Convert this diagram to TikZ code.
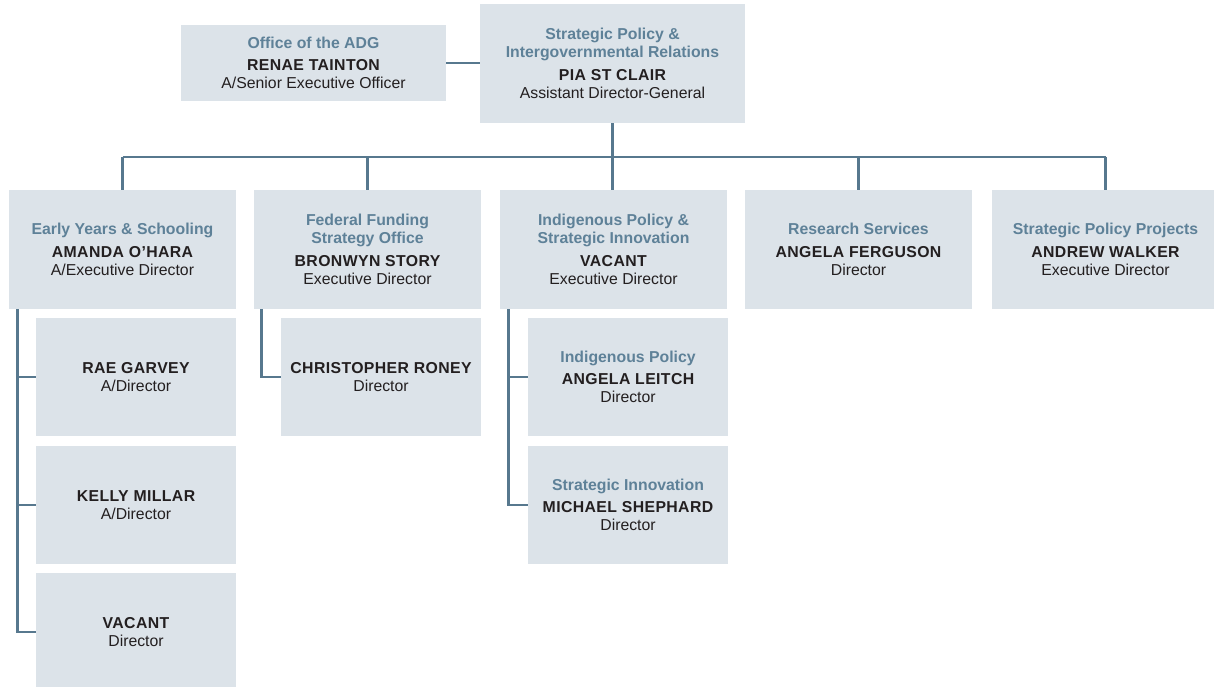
\documentclass[tikz,border=0pt]{standalone}
\usepackage{fontspec}
\setmainfont{Liberation Sans}
\definecolor{boxfill}{HTML}{DCE3E9}
\definecolor{linec}{HTML}{57788E}
\definecolor{ttlc}{HTML}{5E8198}
\definecolor{namec}{HTML}{231F20}
\newcommand{\ttl}[1]{{\color{ttlc}\bfseries #1}}
\newcommand{\nm}[1]{{\color{namec}\bfseries\addfontfeatures{LetterSpace=2.5}#1}}
\begin{document}
\begin{tikzpicture}[x=1pt,y=-1pt,
  unit/.style={fill=boxfill, draw=none, inner sep=0pt, align=center,
    text=namec, font=\fontsize{15.8}{18}\selectfont},
  topbox/.style={unit, minimum width=265pt},
  lvtwo/.style={unit, minimum width=227pt, minimum height=119pt},
  subbox/.style={unit, minimum width=200pt, minimum height=118pt},
  conn/.style={draw=linec, line width=2.9pt}]
\useasboundingbox (0,0) rectangle (1214,687);
% top level
\node[topbox, minimum height=76pt] (adg) at (313.5,63)
  {\ttl{Office of the ADG}\\[4.5pt]\nm{RENAE TAINTON}\\A/Senior Executive Officer};
\node[topbox, minimum height=119pt] (sp) at (612.5,63.5)
  {\ttl{Strategic Policy \&}\\\ttl{Intergovernmental Relations}\\[4.5pt]\nm{PIA ST CLAIR}\\Assistant Director-General};
% second level
\node[lvtwo] (ey) at (122.5,249.5)
  {\ttl{Early Years \& Schooling}\\[4.5pt]\nm{AMANDA O’HARA}\\A/Executive Director};
\node[lvtwo] (ff) at (367.5,249.5)
  {\ttl{Federal Funding}\\\ttl{Strategy Office}\\[4.5pt]\nm{BRONWYN STORY}\\Executive Director};
\node[lvtwo] (ip) at (613.5,249.5)
  {\ttl{Indigenous Policy \&}\\\ttl{Strategic Innovation}\\[4.5pt]\nm{VACANT}\\Executive Director};
\node[lvtwo] (rs) at (858.5,249.5)
  {\ttl{Research Services}\\[4.5pt]\nm{ANGELA FERGUSON}\\Director};
\node[lvtwo] (spp) at (1105.5,249.5)
  {\ttl{Strategic Policy Projects}\\[4.5pt]\nm{ANDREW WALKER}\\Executive Director};
% third level
\node[subbox] (rg) at (136,377) {\nm{RAE GARVEY}\\A/Director};
\node[subbox] (km) at (136,505) {\nm{KELLY MILLAR}\\A/Director};
\node[subbox] (vc) at (136,632) {\nm{VACANT}\\Director};
\node[subbox] (cr) at (381,377) {\nm{CHRISTOPHER RONEY}\\Director};
\node[subbox] (al) at (628,377) {\ttl{Indigenous Policy}\\[4.5pt]\nm{ANGELA LEITCH}\\Director};
\node[subbox] (ms) at (628,505) {\ttl{Strategic Innovation}\\[4.5pt]\nm{MICHAEL SHEPHARD}\\Director};
% connectors
\coordinate (bus) at (0,157);
\draw[conn] (adg.east) -- (adg.east -| sp.west);
\draw[conn] (sp.south) -- (sp.south |- ip.north);
\draw[conn] (ey.north |- bus) -- (spp.north |- bus);
\draw[conn] (ey.north) -- (ey.north |- bus);
\draw[conn] (ff.north) -- (ff.north |- bus);
\draw[conn] (rs.north) -- (rs.north |- bus);
\draw[conn] (spp.north) -- (spp.north |- bus);
\draw[conn] ([xshift=8.5pt]ey.south west) |- (vc.west);
\draw[conn] ([xshift=8.5pt]ey.south west |- rg.west) -- (rg.west);
\draw[conn] ([xshift=8.5pt]ey.south west |- km.west) -- (km.west);
\draw[conn] ([xshift=8pt]ff.south west) |- (cr.west);
\draw[conn] ([xshift=9pt]ip.south west) |- (ms.west);
\draw[conn] ([xshift=9pt]ip.south west |- al.west) -- (al.west);
\end{tikzpicture}
\end{document}
